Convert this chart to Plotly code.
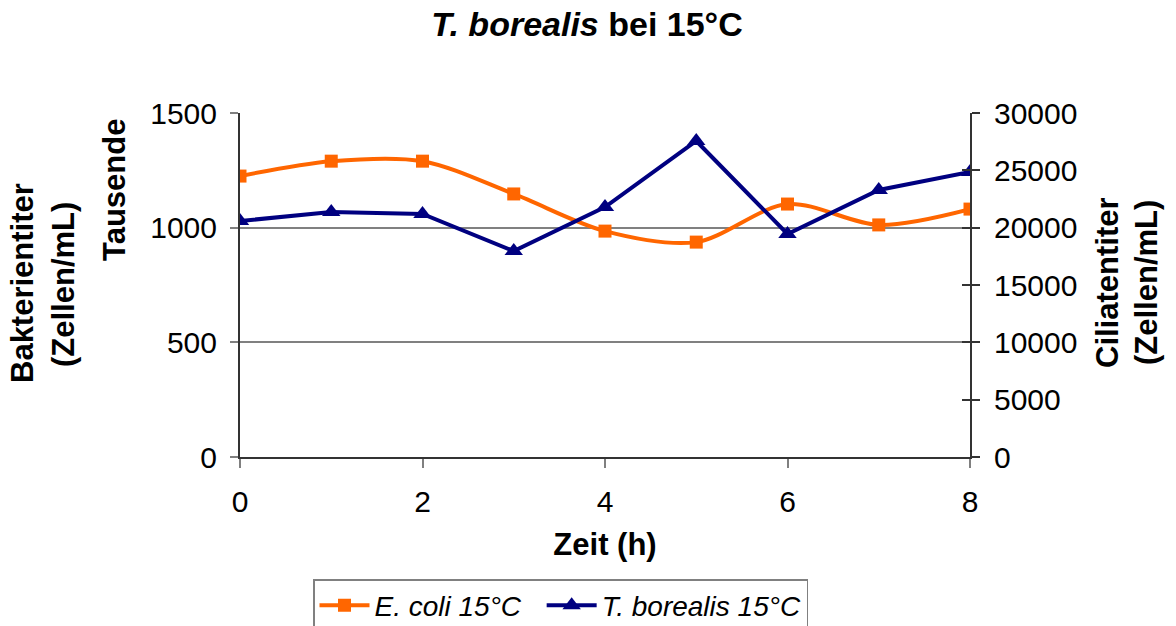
import plotly.graph_objects as go

# Zeitpunkte (h)
zeit_h = [0, 1, 2, 3, 4, 5, 6, 7, 8]
# Bakterientiter E. coli, Tausende Zellen/mL
ecoli_tsd = [1225, 1290, 1290, 1147, 985, 937, 1103, 1012, 1081]
# Ciliatentiter T. borealis, Zellen/mL
tborealis = [20580, 21370, 21190, 17960, 21800, 27560, 19450, 23290, 24860]

x_ticks = [0, 2, 4, 6, 8]
left_ticks = [0, 500, 1000, 1500]
right_ticks = [0, 5000, 10000, 15000, 20000, 25000, 30000]

FONT = "Liberation Sans, Arial, sans-serif"
ORANGE = "#FF6600"
NAVY = "#000080"
GRID = "#808080"
AXIS = "#333333"

W, H = 1176, 626
L, R, T, B = 240, 970, 113, 457  # Plotbereich in Pixeln


def px(xp):
    return (xp - L) / (R - L)


def py(yp):
    return (B - yp) / (B - T)


fig = go.Figure()

fig.add_trace(go.Scatter(
    x=zeit_h, y=ecoli_tsd, name="<i>E. coli 15°C</i>\u00a0\u00a0",
    mode="lines+markers", yaxis="y",
    line=dict(color=ORANGE, width=4, shape="spline", smoothing=0.9),
    marker=dict(symbol="square", size=13, color=ORANGE),
))
fig.add_trace(go.Scatter(
    x=zeit_h, y=tborealis, name="<i>T. borealis 15°C</i>",
    mode="lines+markers", yaxis="y2",
    line=dict(color=NAVY, width=4),
    marker=dict(symbol="triangle-up", size=16, color=NAVY),
))
# unsichtbare Spur, damit die zusätzliche rechte Achse gezeichnet wird
fig.add_trace(go.Scatter(x=[None], y=[None], yaxis="y3", showlegend=False,
                         hoverinfo="skip"))

fig.update_layout(
    width=W, height=H,
    paper_bgcolor="white", plot_bgcolor="white",
    margin=dict(l=L, r=W - R, t=T, b=H - B, autoexpand=False),
    font=dict(family=FONT, size=30, color="black"),
    title=dict(
        text="<b><i>T. borealis</i> bei 15°C</b>",
        x=587 / W, xref="container", xanchor="center",
        y=1 - 24 / H, yref="container", yanchor="middle",
        font=dict(family=FONT, size=34, color="black"),
    ),
    xaxis=dict(
        range=[0, 8], tickvals=x_ticks, ticktext=[str(v) for v in x_ticks],
        showgrid=False, zeroline=False,
        showline=True, linecolor=AXIS, linewidth=2,
        ticks="outside", ticklen=9, tickwidth=1.5, tickcolor=GRID,
        tickfont=dict(size=30), ticklabelstandoff=8,
        title=dict(text="<b>Zeit (h)</b>", font=dict(size=31), standoff=16),
    ),
    yaxis=dict(
        range=[0, 1500], tickvals=left_ticks,
        ticktext=[str(v) for v in left_ticks],
        showgrid=True, gridcolor=GRID, gridwidth=1.5, zeroline=False,
        showline=True, linecolor=AXIS, linewidth=2,
        ticks="outside", ticklen=8, tickwidth=1.5, tickcolor=GRID,
        tickfont=dict(size=30), ticklabelstandoff=7,
    ),
    yaxis2=dict(
        range=[0, 30000], tickvals=right_ticks,
        ticktext=[str(v) for v in right_ticks],
        overlaying="y", side="right",
        anchor="x", showgrid=False, zeroline=False,
        showline=True, linecolor=AXIS, linewidth=2,
        ticks="outside", ticklen=8, tickwidth=1.5, tickcolor=AXIS,
        tickfont=dict(size=30), ticklabelstandoff=8,
    ),
    yaxis3=dict(
        range=[0, 30000], tickvals=right_ticks, overlaying="y", side="right",
        anchor="x", showgrid=False, zeroline=False, showline=False,
        ticks="inside", ticklen=8, tickwidth=1.5, tickcolor=AXIS,
        showticklabels=False,
    ),
    legend=dict(
        orientation="h", x=px(313), xanchor="left", y=py(579), yanchor="top",
        bordercolor=GRID, borderwidth=1.5, bgcolor="white",
        font=dict(family=FONT, size=28), itemwidth=50,
    ),
    showlegend=True,
)

anno = dict(xref="paper", yref="paper", showarrow=False, textangle=-90,
            xanchor="center", yanchor="middle",
            font=dict(family=FONT, size=31, color="black"))
fig.add_annotation(text="<b>Bakterientiter</b>", x=px(22), y=py(283), **anno)
fig.add_annotation(text="<b>(Zellen/mL)</b>", x=px(63), y=py(285), **anno)
fig.add_annotation(text="<b>Tausende</b>", x=px(114), y=py(190), **anno)
fig.add_annotation(text="<b>Ciliatentiter</b>", x=px(1107), y=py(283), **anno)
fig.add_annotation(text="<b>(Zellen/mL)</b>", x=px(1146), y=py(283), **anno)

fig.write_html("out.html")
